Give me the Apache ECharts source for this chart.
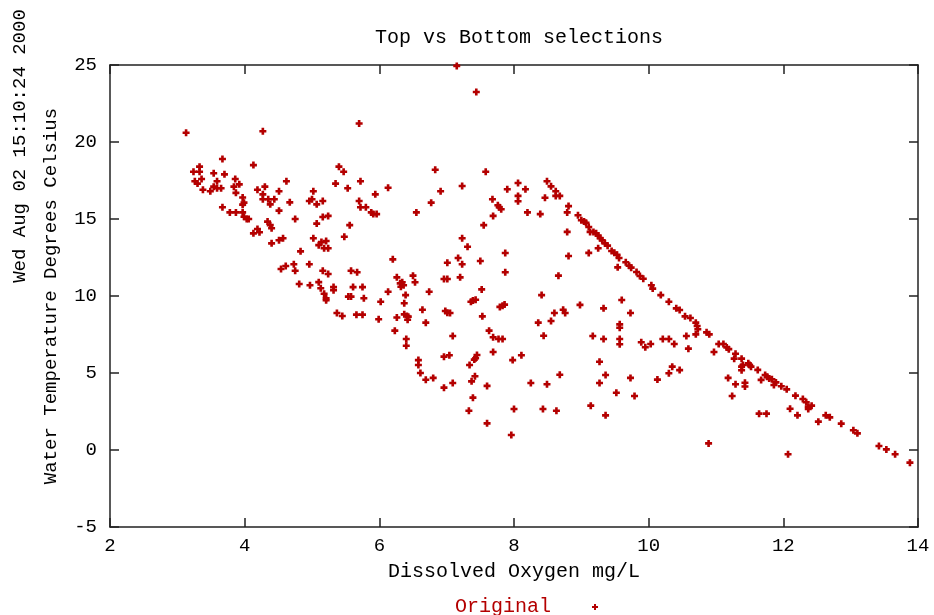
<!DOCTYPE html>
<html>
<head>
<meta charset="utf-8">
<title>Top vs Bottom selections</title>
<script src="https://cdn.jsdelivr.net/npm/echarts@6/dist/echarts.min.js"></script>
<style>
  html, body { margin: 0; padding: 0; background: #fff; }
  #chart { width: 934px; height: 615px; }
</style>
</head>
<body>
<div id="chart"></div>
<script>
// dissolved oxygen (mg/L) and water temperature (C)
const oxygen = [
  3.13, 4.27, 5.70, 3.67, 3.33, 3.24, 3.33, 4.13, 3.54, 3.70, 3.36, 3.26, 3.30, 3.59, 3.86, 3.92,
  3.54, 3.59, 3.65, 3.84, 3.38, 3.49, 3.87, 3.67, 3.97, 3.99, 3.97, 3.78, 3.87, 3.97, 3.99, 4.03,
  4.06, 4.19, 4.62, 4.30, 4.19, 4.27, 4.51, 4.27, 4.35, 4.44, 4.38, 4.67, 4.51, 4.34, 4.38, 4.40,
  4.75, 5.02, 4.96, 5.00, 5.07, 5.16, 5.07, 5.16, 5.24, 5.40, 5.47, 5.35, 5.72, 5.53, 5.70, 5.72,
  5.80, 5.56,
  4.13, 4.22, 4.40, 4.51, 4.57, 4.83, 5.02, 5.10, 5.14, 5.21, 5.18, 5.24, 5.48, 4.54, 4.61, 4.73,
  4.75, 4.96, 5.16, 5.24, 5.58, 5.67, 4.81, 4.97, 5.10, 5.13, 5.32, 5.32, 5.61, 5.75, 5.18, 5.21,
  5.21, 5.54, 5.58, 5.77, 5.37, 5.45, 5.66, 5.75,
  7.15, 7.44, 6.83, 7.58,
  6.13, 5.94, 6.91, 7.23, 6.77, 5.88, 5.91, 5.96, 6.55, 7.90, 8.06, 8.17, 8.06, 8.06, 7.68, 7.76,
  7.78, 7.81, 7.69, 8.20, 8.39, 8.49, 8.55, 8.62, 8.68, 8.62, 8.46, 8.81, 8.79, 8.79, 7.55, 7.23,
  7.31, 6.20, 7.01, 7.17, 7.23, 7.50, 7.87, 7.87, 8.66, 6.26, 6.50, 6.53, 6.31, 6.34, 6.32, 6.36,
  6.96, 7.01, 7.20, 7.52, 8.81,
  6.13, 6.02, 6.39, 6.37, 6.74, 5.99, 6.26, 6.37, 6.41, 6.43, 6.42, 6.64, 6.69, 6.23, 6.40, 6.40,
  6.98, 7.01, 7.05, 7.09, 7.36, 7.39, 7.43, 7.53, 7.79, 7.83, 7.86, 8.41, 8.73, 8.76, 8.60, 8.55,
  8.36, 8.44, 7.63, 7.69, 7.77, 7.83, 7.69, 7.45, 7.43, 7.41, 7.34, 6.58, 6.58, 6.96, 7.04, 6.61,
  6.69, 6.80, 6.96, 7.09, 7.42, 7.37, 7.60, 7.98, 8.11, 8.68, 8.25, 8.49, 7.39, 7.33, 8.00, 8.43,
  8.63, 7.60, 7.96,
  8.95, 9.00, 9.04, 9.07, 9.11, 9.13, 9.18, 9.22, 9.25, 9.28, 9.31, 9.35, 9.39, 9.25, 9.11, 9.45,
  9.49, 9.53, 9.56, 9.54, 9.66, 9.71, 9.74, 9.82, 9.87, 9.92, 10.04, 10.06,
  10.18, 10.30, 10.41, 10.46, 10.54, 10.62, 10.70, 10.72, 10.73, 10.70, 10.56, 10.59, 10.86, 10.90,
  11.04, 11.11, 11.16, 11.19, 10.97, 11.29, 11.27, 11.38, 11.38, 11.40, 11.48, 11.50, 11.52, 11.62,
  11.73, 11.76, 11.79, 11.67, 11.18, 11.29, 11.43, 11.43, 11.24, 11.64, 11.75, 10.89, 8.98, 9.33,
  9.60, 9.73, 9.57, 9.57, 9.17, 9.33, 9.57, 9.57, 9.89, 9.95, 10.03, 10.21, 10.30, 10.38, 9.27,
  9.36, 9.27, 9.73, 9.52, 9.79, 9.14, 9.36, 10.13, 10.30, 10.35, 10.46,
  11.38, 11.83, 11.89, 11.86, 11.97, 12.05, 12.18, 12.29, 12.34, 12.37, 12.42, 12.37, 12.10, 12.21,
  12.52, 12.63, 12.69, 12.86, 13.04, 13.10, 13.42, 13.53, 13.66, 13.88, 12.07
];

const temperature = [
  20.6, 20.7, 21.2, 18.9, 18.4, 18.07, 18.07, 18.5, 17.97, 17.9, 17.6, 17.45, 17.3, 17.45, 17.6, 17.25,
  17.1, 17.0, 17.0, 17.1, 16.9, 16.8, 16.7, 15.76, 16.4, 16.06, 15.93, 15.43, 15.43, 15.43, 15.15, 15.0,
  15.0, 14.35, 17.45, 17.1, 16.9, 16.6, 16.8, 16.28, 16.28, 16.28, 15.95, 16.08, 15.54, 14.83, 14.6, 14.4,
  15.0, 16.8, 16.17, 16.28, 15.95, 16.17, 14.7, 15.13, 15.2, 18.4, 18.07, 17.3, 17.45, 17.0, 16.17, 15.76,
  15.76, 14.6,
  14.07, 14.14, 13.42, 13.62, 13.75, 12.9, 13.75, 13.3, 13.5, 13.57, 13.1, 13.1, 13.85, 11.75, 11.95, 12.06,
  11.64, 12.06, 11.64, 11.43, 11.64, 11.54, 10.78, 10.7, 10.9, 10.5, 10.58, 10.37, 10.58, 10.58, 10.15, 9.85,
  9.72, 9.96, 9.96, 9.85, 8.9, 8.7, 8.79, 8.79,
  24.94, 23.25, 18.2, 18.07,
  17.03, 16.6, 16.8, 17.14, 16.06, 15.43, 15.32, 15.32, 15.43, 16.93, 17.34, 16.93, 16.5, 16.15, 16.28, 15.89,
  15.76, 15.63, 15.2, 15.43, 15.32, 17.45, 17.12, 16.8, 16.5, 16.5, 16.38, 15.84, 15.43, 14.16, 14.6, 13.75,
  13.2, 12.38, 12.16, 12.47, 12.06, 12.27, 12.79, 11.54, 11.32, 11.21, 11.32, 10.89, 10.82, 10.89, 10.6, 10.7,
  11.1, 11.1, 11.21, 10.43, 12.6,
  10.28, 9.63, 10.06, 9.53, 10.28, 8.49, 8.6, 8.81, 8.7, 8.66, 8.46, 9.11, 8.27, 7.75, 7.21, 6.77,
  9.03, 8.92, 8.9, 7.4, 9.63, 9.7, 9.76, 8.68, 9.29, 9.37, 9.44, 10.06, 9.11, 8.9, 8.9, 8.38,
  8.27, 7.42, 7.75, 7.32, 7.21, 7.21, 6.36, 6.17, 5.96, 5.87, 5.52, 5.84, 5.52, 6.06, 6.15, 5.0,
  4.56, 4.68, 4.05, 4.35, 4.79, 4.46, 4.16, 5.84, 6.15, 4.89, 4.35, 4.27, 3.4, 2.55, 2.66, 2.66,
  2.55, 1.73, 0.97,
  15.24, 14.92, 14.83, 14.76, 14.48, 14.16, 14.16, 14.07, 13.92, 13.75, 13.62, 13.42, 13.27, 13.1, 12.8, 12.92,
  12.81, 12.68, 12.47, 11.86, 12.19, 11.97, 11.84, 11.56, 11.3, 11.12, 10.7, 10.48,
  10.06, 9.63, 9.2, 9.09, 8.68, 8.57, 8.27, 8.05, 7.84, 7.51, 7.4, 6.58, 7.64, 7.51,
  6.88, 6.88, 6.66, 6.55, 6.36, 6.25, 5.93, 5.93, 5.41, 5.52, 5.63, 5.52, 5.41, 5.2,
  4.87, 4.76, 4.65, 4.55, 4.68, 4.27, 4.37, 4.12, 3.51, 2.36, 2.36, 0.43, 9.42, 9.2,
  9.74, 8.9, 8.16, 7.94, 7.4, 7.21, 7.21, 6.87, 7.0, 6.67, 6.88, 7.21, 7.21, 6.88, 5.73,
  4.87, 4.35, 4.68, 3.72, 3.51, 2.88, 2.25, 4.57, 4.98, 5.41, 5.19,
  5.18, 4.59, 4.39, 4.22, 4.14, 3.94, 3.53, 3.31, 3.10, 2.81, 2.88, 2.66, 2.68, 2.25,
  1.84, 2.25, 2.12, 1.71, 1.28, 1.08, 0.26, 0.04, -0.28, -0.82, -0.28
];

const xTicks = { min: 2, max: 14, interval: 2 };
const yTicks = { min: -5, max: 25, interval: 5 };

const seriesName = 'Original';
const chartTitle = 'Top vs Bottom selections';
const stamp = 'Wed Aug 02 15:10:24 2000';

const FONT = '"Liberation Mono", "DejaVu Sans Mono", monospace';
const RED = '#b40000';
const PLUS = 'path://M2.5,0H5.5V2.5H8V5.5H5.5V8H2.5V5.5H0V2.5H2.5Z';

const points = oxygen.map((x, i) => [x, temperature[i]]);

const chart = echarts.init(document.getElementById('chart'));

const axisCommon = {
  type: 'value',
  axisLine: { show: true, onZero: false, lineStyle: { color: '#222', width: 1.5 } },
  axisTick: { show: true, inside: true, length: 9, lineStyle: { color: '#222', width: 1.5 } },
  splitLine: { show: false },
  axisLabel: { fontFamily: FONT, fontSize: 19, color: '#000' }
};

chart.setOption({
  animation: false,
  backgroundColor: '#fff',
  title: {
    text: chartTitle,
    left: 514,
    top: 23,
    textAlign: 'center',
    textStyle: { fontFamily: FONT, fontSize: 20, fontWeight: 'normal', color: '#000' }
  },
  grid: { left: 110, right: 16, top: 65, bottom: 88 },
  legend: {
    left: 450,
    top: 592,
    align: 'right',
    itemWidth: 42,
    itemHeight: 6,
    data: [{ name: seriesName, icon: 'path://M0,3L0.01,3M36,2H38V0H40V2H42V4H40V6H38V4H36Z' }],
    textStyle: { fontFamily: FONT, fontSize: 20, color: RED }
  },
  xAxis: [
    Object.assign({}, axisCommon, xTicks, {
      position: 'bottom',
      name: 'Dissolved Oxygen mg/L',
      nameLocation: 'middle',
      nameGap: 35,
      nameTextStyle: { fontFamily: FONT, fontSize: 20, color: '#000' },
      axisLabel: Object.assign({}, axisCommon.axisLabel, { margin: 9 })
    }),
    Object.assign({}, axisCommon, xTicks, {
      position: 'top',
      axisLabel: { show: false }
    })
  ],
  yAxis: [
    Object.assign({}, axisCommon, yTicks, {
      position: 'left',
      name: 'Water Temperature Degrees Celsius',
      nameLocation: 'middle',
      nameGap: 50,
      nameTextStyle: { fontFamily: FONT, fontSize: 19, color: '#000' },
      axisLabel: Object.assign({}, axisCommon.axisLabel, { margin: 13 })
    }),
    Object.assign({}, axisCommon, yTicks, {
      position: 'right',
      axisLabel: { show: false }
    })
  ],
  graphic: [{
    type: 'text',
    x: 20,
    y: 146,
    rotation: Math.PI / 2,
    style: {
      text: stamp,
      font: '19px ' + FONT,
      fill: '#000',
      align: 'center',
      verticalAlign: 'middle'
    }
  }],
  series: [{
    name: seriesName,
    type: 'scatter',
    xAxisIndex: 0,
    yAxisIndex: 0,
    symbol: PLUS,
    symbolSize: 7,
    itemStyle: { color: RED, opacity: 1 },
    data: points
  }]
});

window.addEventListener('resize', chart.resize);
</script>
</body>
</html>
